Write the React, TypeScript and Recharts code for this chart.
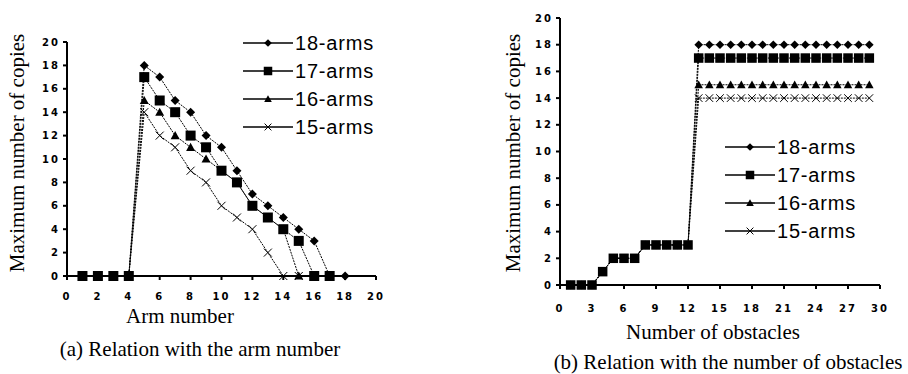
import React from "react";
import { LineChart, Line, XAxis, YAxis, Legend } from "recharts";

// (a) max copies vs arm number
const armNumbers = [1, 2, 3, 4, 5, 6, 7, 8, 9, 10, 11, 12, 13, 14, 15, 16, 17, 18];
const arms18A = [0, 0, 0, 0, 18, 17, 15, 14, 12, 11, 9, 7, 6, 5, 4, 3, 0, 0];
const arms17A = [0, 0, 0, 0, 17, 15, 14, 12, 11, 9, 8, 6, 5, 4, 3, 0, 0, null];
const arms16A = [0, 0, 0, 0, 15, 14, 12, 11, 10, 9, 8, 6, 5, 4, 0, 0, null, null];
const arms15A = [0, 0, 0, 0, 14, 12, 11, 9, 8, 6, 5, 4, 2, 0, 0, null, null, null];
const armTicks = [0, 2, 4, 6, 8, 10, 12, 14, 16, 18, 20];

// (b) max copies vs number of obstacles
const obstacles = [1, 2, 3, 4, 5, 6, 7, 8, 9, 10, 11, 12, 13, 14, 15, 16, 17, 18, 19, 20, 21, 22, 23, 24, 25, 26, 27, 28, 29];
const arms18B = [0, 0, 0, 1, 2, 2, 2, 3, 3, 3, 3, 3, 18, 18, 18, 18, 18, 18, 18, 18, 18, 18, 18, 18, 18, 18, 18, 18, 18];
const arms17B = [0, 0, 0, 1, 2, 2, 2, 3, 3, 3, 3, 3, 17, 17, 17, 17, 17, 17, 17, 17, 17, 17, 17, 17, 17, 17, 17, 17, 17];
const arms16B = [0, 0, 0, 1, 2, 2, 2, 3, 3, 3, 3, 3, 15, 15, 15, 15, 15, 15, 15, 15, 15, 15, 15, 15, 15, 15, 15, 15, 15];
const arms15B = [0, 0, 0, 1, 2, 2, 2, 3, 3, 3, 3, 3, 14, 14, 14, 14, 14, 14, 14, 14, 14, 14, 14, 14, 14, 14, 14, 14, 14];
const obstacleTicks = [0, 3, 6, 9, 12, 15, 18, 21, 24, 27, 30];

const copyTicks = [0, 2, 4, 6, 8, 10, 12, 14, 16, 18, 20];

const SERIES = [
  { key: "a18", name: "18-arms", shape: "diamond" },
  { key: "a17", name: "17-arms", shape: "square" },
  { key: "a16", name: "16-arms", shape: "triangle" },
  { key: "a15", name: "15-arms", shape: "cross" },
];

const dataA = armNumbers.map((x, i) => ({ x, a18: arms18A[i], a17: arms17A[i], a16: arms16A[i], a15: arms15A[i] }));
const dataB = obstacles.map((x, i) => ({ x, a18: arms18B[i], a17: arms17B[i], a16: arms16B[i], a15: arms15B[i] }));

const SERIF = '"Liberation Serif", "Times New Roman", serif';
const SANS = '"Liberation Sans", Arial, sans-serif';
const tickStyle = { fill: "#000", fontSize: 10, fontWeight: 700, fontFamily: '"DejaVu Sans", sans-serif', letterSpacing: 2 };

function Marker({ shape, cx, cy, s }: { shape: string; cx: number; cy: number; s: number }) {
  if (shape === "diamond") {
    return <polygon points={`${cx},${cy - s} ${cx + s},${cy} ${cx},${cy + s} ${cx - s},${cy}`} fill="#000" />;
  }
  if (shape === "square") {
    return <rect x={cx - s} y={cy - s} width={2 * s} height={2 * s} fill="#000" />;
  }
  if (shape === "triangle") {
    return <polygon points={`${cx},${cy - s} ${cx + s},${cy + s * 0.8} ${cx - s},${cy + s * 0.8}`} fill="#000" />;
  }
  return (
    <g stroke="#000" strokeWidth={1}>
      <line x1={cx - s} y1={cy - s} x2={cx + s} y2={cy + s} />
      <line x1={cx - s} y1={cy + s} x2={cx + s} y2={cy - s} />
    </g>
  );
}

const SIZES: Record<string, number> = { diamond: 4.5, square: 5, triangle: 4.5, cross: 4 };

function makeDot(shape: string, scale: number) {
  return (p: any) => {
    const k = `${shape}-${p.index}`;
    if (p.cx == null || p.cy == null || p.value == null) return <g key={k} />;
    return (
      <g key={k}>
        <Marker shape={shape} cx={p.cx} cy={p.cy} s={SIZES[shape] * scale} />
      </g>
    );
  };
}

function LegendBox() {
  return (
    <div style={{ fontFamily: SANS, fontSize: 20, letterSpacing: 0.8, color: "#000" }}>
      {SERIES.map((s) => (
        <div key={s.key} style={{ display: "flex", alignItems: "center", height: 28 }}>
          <svg width={52} height={14} style={{ display: "block" }}>
            <line x1={0} y1={7} x2={50} y2={7} stroke="#000" strokeWidth={1.5} />
            <Marker shape={s.shape} cx={25} cy={7} s={SIZES[s.shape] * 0.85} />
          </svg>
          <span style={{ lineHeight: "28px" }}>{s.name}</span>
        </div>
      ))}
    </div>
  );
}

function Panel({ data, ticks, xMax, margin, legendPos, width, markerScale, xTickMargin }: any) {
  return (
    <LineChart width={width} height={374} data={data} margin={margin}>
      <XAxis
        type="number"
        dataKey="x"
        domain={[0, xMax]}
        ticks={ticks}
        interval={0}
        height={30}
        tick={tickStyle}
        tickSize={4}
        tickMargin={xTickMargin}
        axisLine={{ stroke: "#000", strokeWidth: 2 }}
        tickLine={{ stroke: "#000", strokeWidth: 2 }}
      />
      <YAxis
        type="number"
        domain={[0, 20]}
        ticks={copyTicks}
        interval={0}
        width={30}
        tick={tickStyle}
        tickSize={4}
        tickMargin={3}
        axisLine={{ stroke: "#000", strokeWidth: 2 }}
        tickLine={{ stroke: "#000", strokeWidth: 2 }}
      />
      <Legend
        layout="horizontal"
        verticalAlign="middle"
        align="center"
        wrapperStyle={{ left: legendPos.left, top: legendPos.top, width: 150 }}
        content={() => <LegendBox />}
      />
      {SERIES.map((s) => (
        <Line
          key={s.key}
          type="linear"
          dataKey={s.key}
          name={s.name}
          stroke="#000"
          strokeWidth={1}
          strokeDasharray="2 1"
          dot={makeDot(s.shape, markerScale)}
          activeDot={false}
          connectNulls={false}
          isAnimationActive={false}
        />
      ))}
    </LineChart>
  );
}

const textBase: React.CSSProperties = {
  position: "absolute",
  fontFamily: SERIF,
  fontSize: 21,
  color: "#000",
  whiteSpace: "nowrap",
  lineHeight: 1,
};

function Centered({ x, y, rotate, children }: any) {
  return (
    <div style={{ ...textBase, left: x, top: y, transform: `translate(-50%, -50%)${rotate ? " rotate(-90deg)" : ""}` }}>
      {children}
    </div>
  );
}

export default function App() {
  return (
    <div style={{ position: "absolute", left: 0, top: 0, width: 908, height: 374, background: "#fff", overflow: "hidden" }}>
      <div style={{ position: "absolute", left: 0, top: 0 }}>
        <Panel
          data={dataA}
          ticks={armTicks}
          xMax={20}
          width={460}
          margin={{ top: 42, right: 84, bottom: 68, left: 37 }}
          legendPos={{ left: 243, top: 29 }}
          markerScale={1}
          xTickMargin={13}
        />
      </div>
      <div style={{ position: "absolute", left: 470, top: 0 }}>
        <Panel
          data={dataB}
          ticks={obstacleTicks}
          xMax={30}
          width={438}
          margin={{ top: 18, right: 28, bottom: 59, left: 60 }}
          legendPos={{ left: 255, top: 133 }}
          markerScale={0.95}
          xTickMargin={16}
        />
      </div>
      <Centered x={17} y={153} rotate>Maximum number of copies</Centered>
      <Centered x={180} y={316}>Arm number</Centered>
      <Centered x={200} y={349}>(a) Relation with the arm number</Centered>
      <Centered x={513} y={153} rotate>Maximum number of copies</Centered>
      <Centered x={713} y={332}>Number of obstacles</Centered>
      <Centered x={728} y={362}>(b) Relation with the number of obstacles</Centered>
    </div>
  );
}
